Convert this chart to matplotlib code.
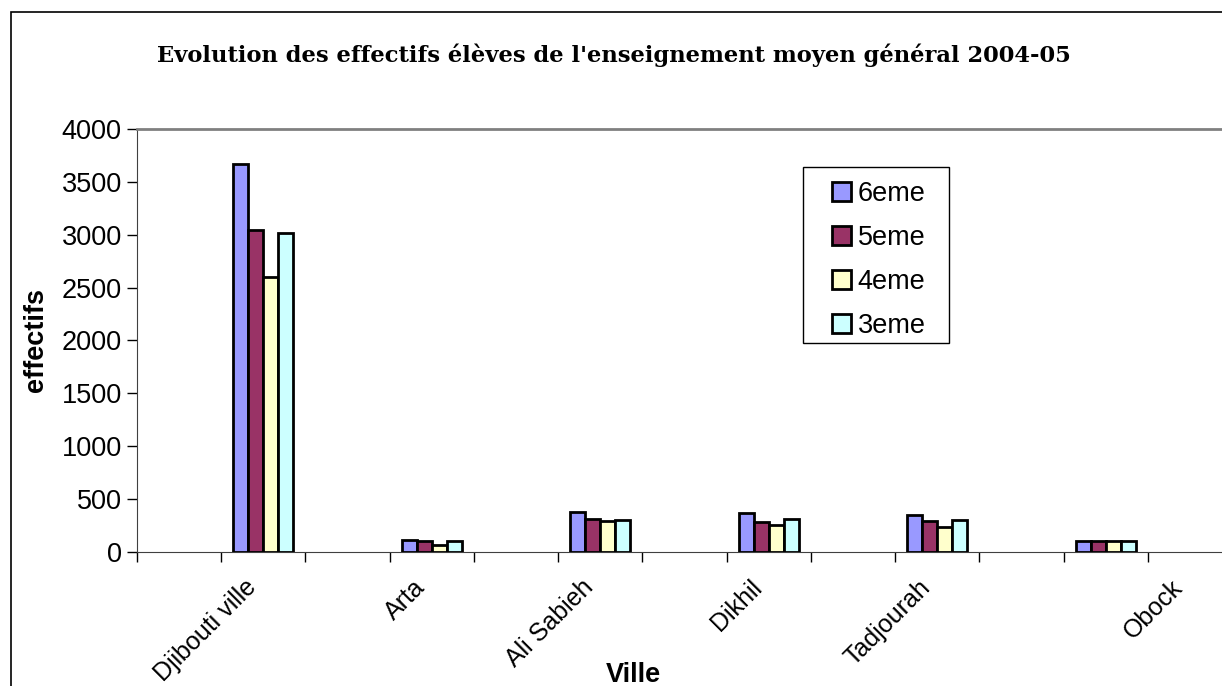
import matplotlib
matplotlib.use('Agg')
import matplotlib.pyplot as plt
from matplotlib.patches import Rectangle
from matplotlib.transforms import ScaledTranslation
import numpy as np

# data
villes = ['Djibouti ville', 'Arta', 'Ali Sabieh', 'Dikhil', 'Tadjourah', 'Obock']
classes = ['6eme', '5eme', '4eme', '3eme']
eff_6eme = [3670, 110, 370, 365, 345, 95]
eff_5eme = [3050, 95, 310, 275, 290, 95]
eff_4eme = [2605, 65, 285, 255, 235, 100]
eff_3eme = [3020, 95, 295, 305, 300, 100]
couleurs = ['#9999FF', '#993366', '#FFFFCC', '#CCFFFF']

# the excel sheet had blank columns between towns: 13 category slots
n_slots = 13
bar_slots = np.array([1, 3, 5, 7, 9, 11])
label_slots = np.array([1, 3, 5, 7, 9, 12])

plt.rcParams['font.family'] = ['Liberation Sans', 'DejaVu Sans']

fig = plt.figure(figsize=(12.22, 6.86), dpi=100)
ax = fig.add_axes([137 / 1222, 1 - 551.5 / 686, 1095 / 1222, 422.2 / 686])

# outer chart border (cropped on right and bottom)
fig.add_artist(Rectangle((11 / 1222, -0.5), 2, 1.5 - 12 / 686,
                         transform=fig.transFigure, fill=False,
                         edgecolor='black', lw=1.2, clip_on=False))

w = 0.178
series = [eff_6eme, eff_5eme, eff_4eme, eff_3eme]
for i, (vals, col, lab) in enumerate(zip(series, couleurs, classes)):
    ax.bar(bar_slots + (i - 1.5) * w, vals, width=w, color=col,
           edgecolor='black', linewidth=2, label=lab, zorder=3)

ax.set_xlim(-0.5, n_slots - 0.5)
ax.set_ylim(0, 4000)
ax.set_yticks(np.arange(0, 4001, 500))
ax.tick_params(axis='y', labelsize=19.5, length=7, width=1, direction='out', pad=4)

ax.set_xticks(label_slots)
ax.set_xticklabels(villes, rotation=45, ha='right', rotation_mode='anchor', fontsize=18)
ax.tick_params(axis='x', which='major', length=0, pad=17)
for lbl in ax.get_xticklabels():
    lbl.set_transform(lbl.get_transform() + ScaledTranslation(-0.19, 0, fig.dpi_scale_trans))
ax.set_xticks(np.arange(-0.5, n_slots, 1), minor=True)
ax.tick_params(axis='x', which='minor', length=7, width=1, direction='out')

ax.spines['top'].set_color('#808080')
ax.spines['top'].set_linewidth(2)
ax.spines['right'].set_visible(False)
ax.spines['left'].set_color('#404040')
ax.spines['bottom'].set_color('#404040')

ax.set_ylabel('effectifs', fontsize=19.5, fontweight='bold')
ax.yaxis.set_label_coords(-0.080, 0.5)
ax.set_xlabel('Ville', fontsize=19.5, fontweight='bold')
ax.xaxis.set_label_coords(0.453, -0.262)

fig.text(614 / 1222, 1 - 55 / 686,
         "Evolution des effectifs élèves de l'enseignement moyen général 2004-05",
         ha='center', va='center', fontsize=16.3, fontweight='bold',
         family=['DejaVu Serif'])

# legend entries without frame, box drawn separately to match the excel padding
leg = ax.legend(loc='upper left', bbox_to_anchor=((832 - 137) / 1095, (551.5 - 181) / 422.2),
                borderaxespad=0, borderpad=0, fontsize=19.5, frameon=False,
                handlelength=0.7, handleheight=0.7,
                handletextpad=0.25, labelspacing=0.66)
ax.add_patch(Rectangle(((803 - 137) / 1095, (551.5 - 343) / 422.2),
                       146 / 1095, 176 / 422.2, transform=ax.transAxes,
                       fill=False, edgecolor='black', lw=1, zorder=4))

fig.savefig('out.png', dpi=100)
